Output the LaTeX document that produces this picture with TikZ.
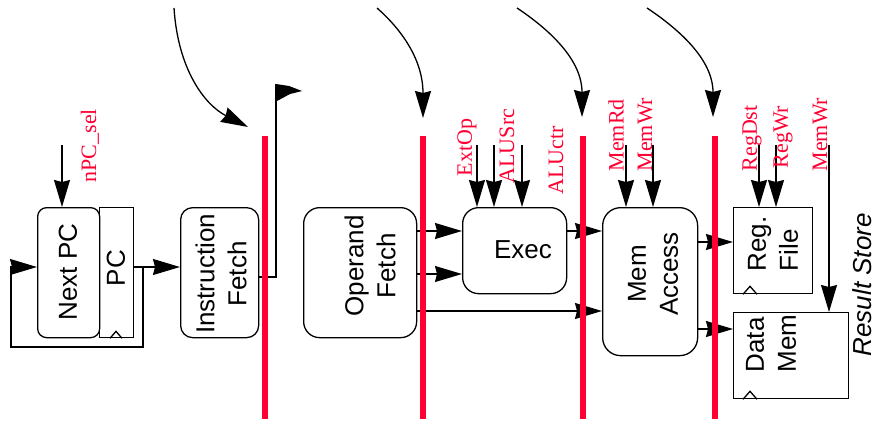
\documentclass[tikz,border=0pt]{standalone}
\usepackage{fontspec}
\setmainfont{Liberation Serif}
\setsansfont{Liberation Sans}
\usetikzlibrary{arrows.meta,calc}
\definecolor{pipered}{RGB}{255,0,51}
\begin{document}
\begin{tikzpicture}[x=1pt,y=-1pt, line width=1.3pt,
  arr/.style={-{Stealth[length=27pt,width=16pt,inset=2pt]}},
  rbox/.style={draw, rounded corners=12pt, inner sep=0pt, anchor=north west},
  sbox/.style={draw, inner sep=0pt, anchor=north west},
  btxt/.style={font=\sffamily\fontsize{26}{32}\selectfont, rotate=90, align=center, inner sep=0pt},
  ctl/.style={font=\rmfamily\fontsize{22}{24}\selectfont, text=pipered, rotate=90, anchor=west, inner sep=0pt},
  preg/.style={draw=pipered, line width=6pt}]
\useasboundingbox (0,0) rectangle (875,428);

% boxes
\node[rbox, rounded corners=9pt, minimum width=62pt, minimum height=130pt] (npc) at (37,207) {};
\node[sbox, minimum width=34pt, minimum height=130pt] (pc) at (99,207) {};
\node[rbox, minimum width=78pt, minimum height=130pt] (ifetch) at (180,207) {};
\node[rbox, rounded corners=16pt, minimum width=113pt, minimum height=130pt] (ofetch) at (303,207) {};
\node[rbox, rounded corners=16pt, minimum width=104pt, minimum height=86pt] (exec) at (462,207) {};
\node[rbox, rounded corners=18pt, minimum width=95pt, minimum height=148pt] (mem) at (602,207) {};
\node[sbox, minimum width=79pt, minimum height=86pt] (rf) at (733,207) {};
\node[sbox, minimum width=115pt, minimum height=86pt] (dm) at (733,312) {};

% clock marks
\draw ([xshift=11pt]pc.south west) -- ++(6,-7) -- ++(6,7);
\draw ([xshift=10pt]rf.south west) -- ++(7,-8) -- ++(7,8);
\draw ([xshift=10pt]dm.south west) -- ++(7,-8) -- ++(7,8);

% box texts
\node[btxt] (tnpc) at (68,272) {Next PC};
\node[btxt] (tpc) at (116,268) {PC};
\node[btxt] (tif) at (221,274) {Instruction\\Fetch};
\node[btxt] (tof) at (370,266) {Operand\\Fetch};
\node[font=\sffamily\fontsize{26}{32}\selectfont, inner sep=0pt] (tex) at (523,250) {Exec};
\node[btxt] (tmem) at (653,274) {Mem\\Access};
\node[btxt, align=left, anchor=west] (trf) at (773,272) {Reg.\\File};
\node[btxt, align=left, anchor=west] (tdm) at (771,373) {Data\\Mem};
\node[font=\sffamily\itshape\fontsize{26}{32}\selectfont, rotate=90, anchor=base west, inner sep=0pt] (trs) at (871,357) {Result Store};

% data paths
\coordinate (br) at (143,267);
\coordinate (fbl) at (11,347);
\draw[arr] (pc.east |- br) -- (ifetch.west |- br);
\draw[arr] (br) -- (br |- fbl) -- (fbl) -- (fbl |- br) -- (npc.west |- br);
\coordinate (pole) at (276,277);
\coordinate (poletop) at (276,84);
\draw (ifetch.east |- pole) -- (pole) -- (poletop);
\fill (poletop) -- ++(13,2) -- ++(13,5) -- ++(-12,3) -- ++(-13,7) -- cycle;

\draw[arr] (ofetch.east |- 0,231) -- (exec.west |- 0,231);
\draw[arr] (ofetch.east |- 0,274) -- (exec.west |- 0,274);
\draw[arr] (ofetch.east |- 0,311) -- (mem.west |- 0,311);
\draw[arr] (exec.east |- 0,231) -- (mem.west |- 0,231);
\draw[arr] (mem.east |- 0,242) -- (rf.west |- 0,242);
\draw[arr] (mem.east |- 0,329) -- (dm.west |- 0,329);

% control inputs
\coordinate (cnpc) at (62,145);
\coordinate (cext) at (477,145);
\coordinate (csrc) at (494,145);
\coordinate (cctr) at (522,145);
\coordinate (cmrd) at (626,145);
\coordinate (cmwr) at (653,145);
\coordinate (crdst) at (759,145);
\coordinate (crwr) at (776,145);
\coordinate (cdwr) at (829,145);
\draw[arr] (cnpc) -- (cnpc |- npc.north);
\draw[arr] (cext) -- (cext |- exec.north);
\draw[arr] (csrc) -- (csrc |- exec.north);
\draw[arr] (cctr) -- (cctr |- exec.north);
\draw[arr] (cmrd) -- (cmrd |- mem.north);
\draw[arr] (cmwr) -- (cmwr |- mem.north);
\draw[arr] (crdst) -- (crdst |- rf.north);
\draw[arr] (crwr) -- (crwr |- rf.north);
\draw[arr] (cdwr) -- (cdwr |- dm.north);

% control labels
\node[ctl] (lnpc) at (90,183) {nPC\_sel};
\node[ctl] (lext) at (467,177) {ExtOp};
\node[ctl] (lsrc) at (507,184) {ALUSrc};
\node[ctl] (lctr) at (556,195) {ALUctr};
\node[ctl] (lmrd) at (616,172) {MemRd};
\node[ctl] (lmwr) at (645,172) {MemWr};
\node[ctl] (lrdst) at (752,172) {RegDst};
\node[ctl] (lrwr) at (783,169) {RegWr};
\node[ctl] (ldwr) at (820,172) {MemWr};

% top curved arrows
\coordinate (c1s) at (174,8);  \coordinate (c1e) at (248,127);
\coordinate (c2s) at (377,8);  \coordinate (c2e) at (423,118);
\coordinate (c3s) at (517,8);  \coordinate (c3e) at (582,117);
\coordinate (c4s) at (647,8);  \coordinate (c4e) at (713,117);
\draw[arr] (c1s) .. controls (178,70) and (205,105) .. (c1e);
\draw[arr] (c2s) .. controls (402,30) and (423,60) .. (c2e);
\draw[arr] (c3s) .. controls (550,30) and (582,60) .. (c3e);
\draw[arr] (c4s) .. controls (680,30) and (713,60) .. (c4e);

% pipeline registers
\coordinate (r1t) at (265,136); \coordinate (r1b) at (265,419);
\coordinate (r2t) at (423,136); \coordinate (r2b) at (423,419);
\coordinate (r3t) at (583,136); \coordinate (r3b) at (583,419);
\coordinate (r4t) at (715,136); \coordinate (r4b) at (715,419);
\draw[preg] (r1t) -- (r1b);
\draw[preg] (r2t) -- (r2b);
\draw[preg] (r3t) -- (r3b);
\draw[preg] (r4t) -- (r4b);
\end{tikzpicture}
\end{document}
